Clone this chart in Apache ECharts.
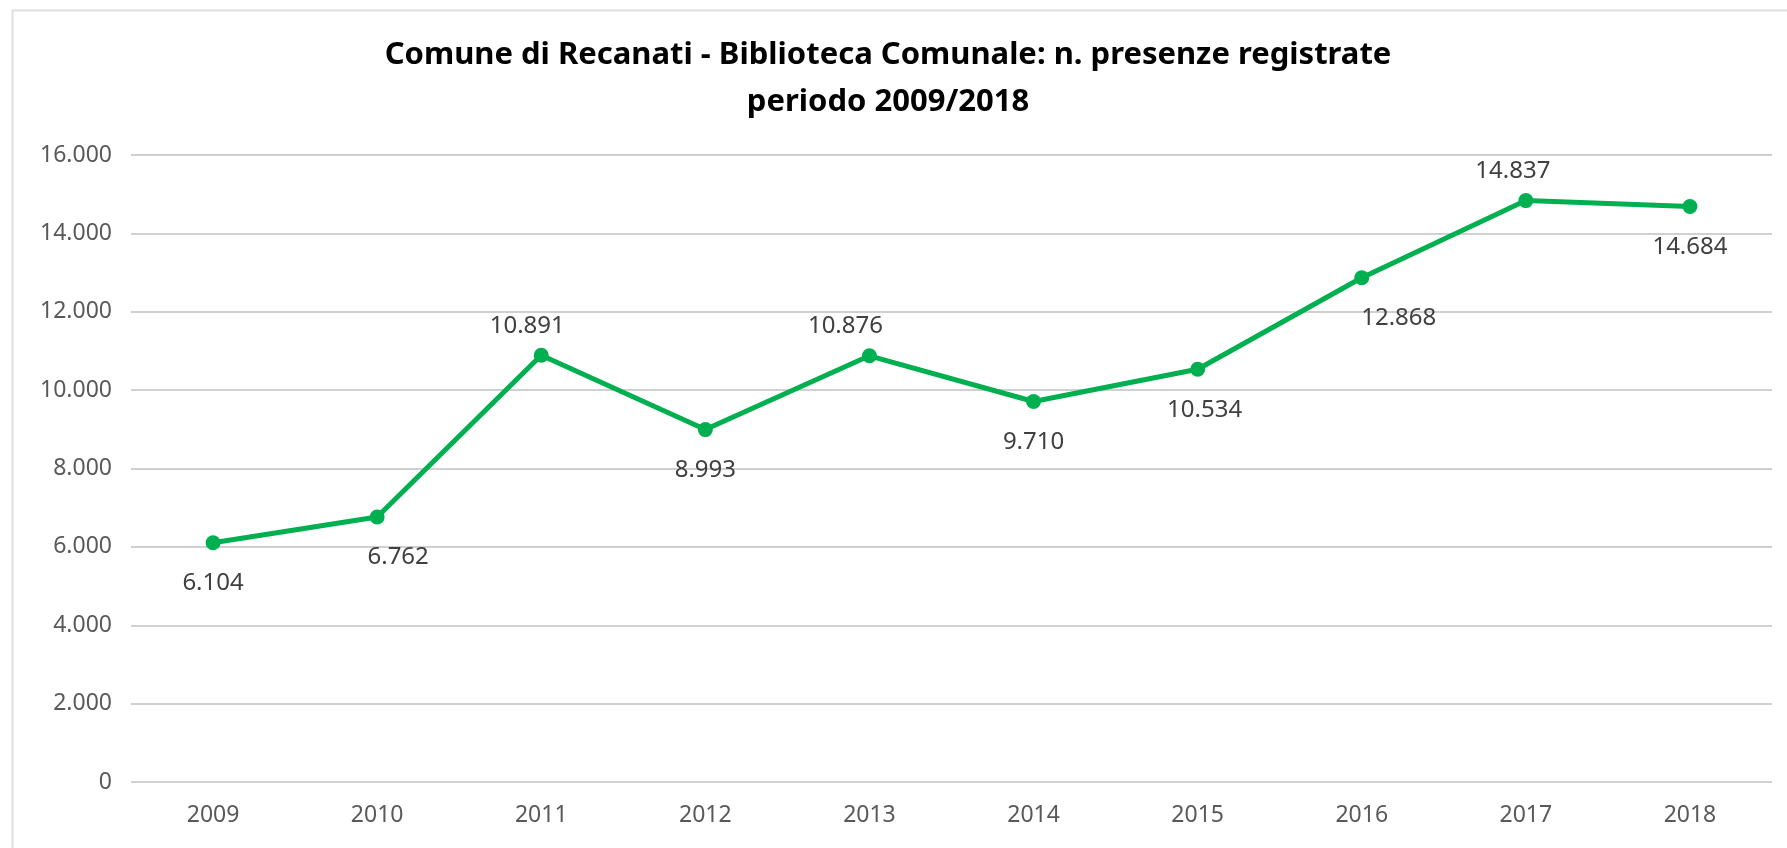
<!DOCTYPE html>
<html>
<head>
<meta charset="utf-8">
<script src="https://cdn.jsdelivr.net/npm/echarts@6/dist/echarts.min.js"></script>
<style>
  html, body { margin: 0; padding: 0; background: #fff; }
  #chart { width: 1787px; height: 848px; }
</style>
</head>
<body>
<div id="chart"></div>
<script>
// data
var years = ["2009", "2010", "2011", "2012", "2013", "2014", "2015", "2016", "2017", "2018"];
var presenze = [6104, 6762, 10891, 8993, 10876, 9710, 10534, 12868, 14837, 14684];
var yTicks = [0, 2000, 4000, 6000, 8000, 10000, 12000, 14000, 16000];

// label placement (as in the excel chart)
var labelSide = ["bottom", "bottom", "top", "bottom", "top", "bottom", "bottom", "bottom", "top", "bottom"];
var labelShiftX = [0, 21, -14, 0, -24, 0, 7, 37, -13, 0];

function fmt(v) {
  return String(v).replace(/\B(?=(\d{3})+(?!\d))/g, ".");
}

var chart = echarts.init(document.getElementById("chart"));

var points = presenze.map(function (v, i) {
  return {
    value: v,
    label: {
      position: labelSide[i],
      distance: labelSide[i] == "top" ? 10 : 21,
      offset: [labelShiftX[i], 0]
    }
  };
});

chart.setOption({
  animation: false,
  textStyle: { fontFamily: "Noto Sans" },
  title: {
    text: "Comune di Recanati - Biblioteca Comunale: n. presenze registrate\nperiodo 2009/2018",
    left: 883,
    top: 27,
    textAlign: "center",
    textStyle: {
      fontFamily: "Noto Sans",
      fontWeight: "bold",
      fontSize: 31,
      lineHeight: 47,
      color: "#000"
    }
  },
  graphic: [
    {
      type: "rect",
      left: 10,
      top: 8,
      shape: { width: 1800, height: 900 },
      style: { fill: "none", stroke: "#dedede", lineWidth: 2 },
      silent: true
    }
  ],
  grid: { left: 131, right: 15, top: 155, bottom: 66 },
  xAxis: {
    type: "category",
    data: years,
    boundaryGap: true,
    axisLine: { show: false },
    axisTick: { show: false },
    axisLabel: { color: "#595959", fontSize: 23, margin: 22 }
  },
  yAxis: {
    type: "value",
    min: yTicks[0],
    max: yTicks[yTicks.length - 1],
    interval: yTicks[1] - yTicks[0],
    axisLine: { show: false },
    axisTick: { show: false },
    axisLabel: {
      color: "#595959",
      fontSize: 23,
      margin: 19,
      formatter: function (v) { return fmt(v); }
    },
    splitLine: { lineStyle: { color: "#d0d0d0", width: 2 } }
  },
  series: [
    {
      name: "presenze",
      type: "line",
      data: points,
      symbol: "circle",
      symbolSize: 15,
      lineStyle: { color: "#00B050", width: 5 },
      itemStyle: { color: "#00B050" },
      label: {
        show: true,
        color: "#404040",
        fontSize: 24,
        formatter: function (p) { return fmt(p.value); }
      }
    }
  ]
});
</script>
</body>
</html>
